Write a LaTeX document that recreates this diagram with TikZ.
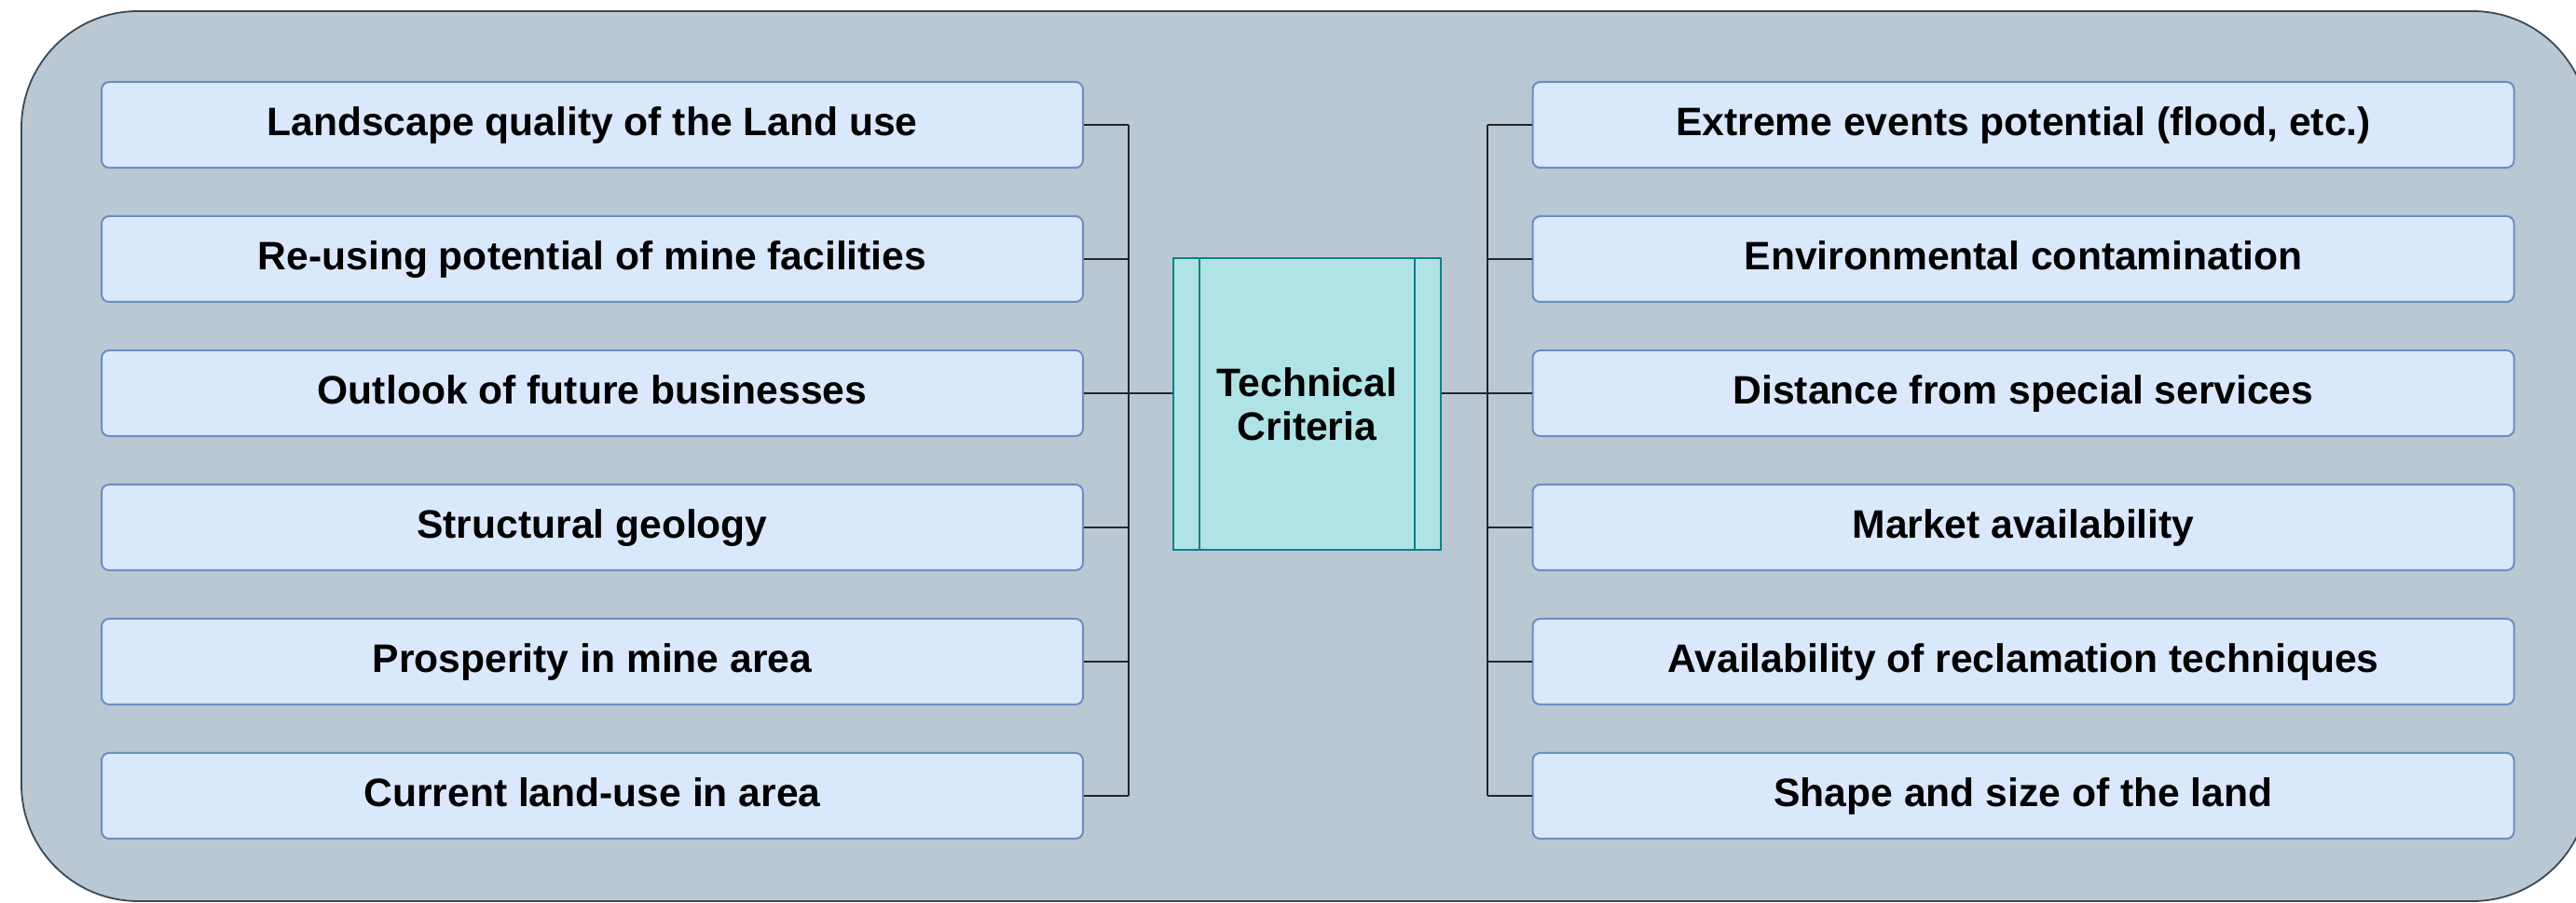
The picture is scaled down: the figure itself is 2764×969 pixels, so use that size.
\documentclass[tikz,border=0pt]{standalone}
\usepackage{fontspec}
\setmainfont{Liberation Sans}
\definecolor{outerfill}{HTML}{BAC8D3}
\definecolor{outerline}{HTML}{3A4A58}
\definecolor{itemfill}{HTML}{DAE8FC}
\definecolor{itemline}{HTML}{6C8EBF}
\definecolor{cfill}{HTML}{B0E3E6}
\definecolor{cline}{HTML}{0E8088}
\tikzset{
  outerbox/.style={fill=outerfill, draw=outerline, line width=0.45pt, rounded corners=31.25pt},
  item/.style={rectangle, rounded corners=2pt, fill=itemfill, draw=itemline, line width=0.5pt,
    minimum width=263.25pt, minimum height=23pt, inner sep=0pt,
    text height=7.7pt, text depth=2.1pt,
    font=\fontsize{10.65}{12}\selectfont\bfseries},
  centrebox/.style={rectangle, fill=cfill, draw=cline, line width=0.5pt,
    minimum width=71.75pt, minimum height=78.25pt, inner sep=0pt, align=center,
    font=\fontsize{10.65}{11.8}\selectfont\bfseries},
  conn/.style={draw=black!85, line width=0.5pt}
}
\begin{document}
\begin{tikzpicture}[x=0.25pt, y=-0.25pt]
\useasboundingbox (0,0) rectangle (2764,969);
\draw[outerbox] (23,12) rectangle (2778,967);

\node[item] (L1) at (635.5,134) {Landscape quality of the Land use};
\node[item] (L2) at (635.5,278) {Re-using potential of mine facilities};
\node[item] (L3) at (635.5,422) {Outlook of future businesses};
\node[item] (L4) at (635.5,566) {Structural geology};
\node[item] (L5) at (635.5,710) {Prosperity in mine area};
\node[item] (L6) at (635.5,854) {Current land-use in area};

\node[item] (R1) at (2171,134) {Extreme events potential (flood, etc.)};
\node[item] (R2) at (2171,278) {Environmental contamination};
\node[item] (R3) at (2171,422) {Distance from special services};
\node[item] (R4) at (2171,566) {Market availability};
\node[item] (R5) at (2171,710) {Availability of reclamation techniques};
\node[item] (R6) at (2171,854) {Shape and size of the land};

\node[centrebox] (C) at (1402.5,433.5) {Technical\\Criteria};
\draw[draw=cline, line width=0.5pt] ([xshift=7.25pt]C.north west) -- ([xshift=7.25pt]C.south west);
\draw[draw=cline, line width=0.5pt] ([xshift=-7.25pt]C.north east) -- ([xshift=-7.25pt]C.south east);

\coordinate (lb) at (1211,0);
\coordinate (rb) at (1596,0);

\foreach \i in {1,...,6}{
  \draw[conn] (L\i.east) -- (L\i.east -| lb);
  \draw[conn] (R\i.west) -- (R\i.west -| rb);
}
\draw[conn] (L1.east -| lb) -- (L6.east -| lb);
\draw[conn] (R1.west -| rb) -- (R6.west -| rb);
\draw[conn] (L3.east -| lb) -- (L3.east -| C.west);
\draw[conn] (R3.west -| rb) -- (R3.west -| C.east);
\end{tikzpicture}
\end{document}
